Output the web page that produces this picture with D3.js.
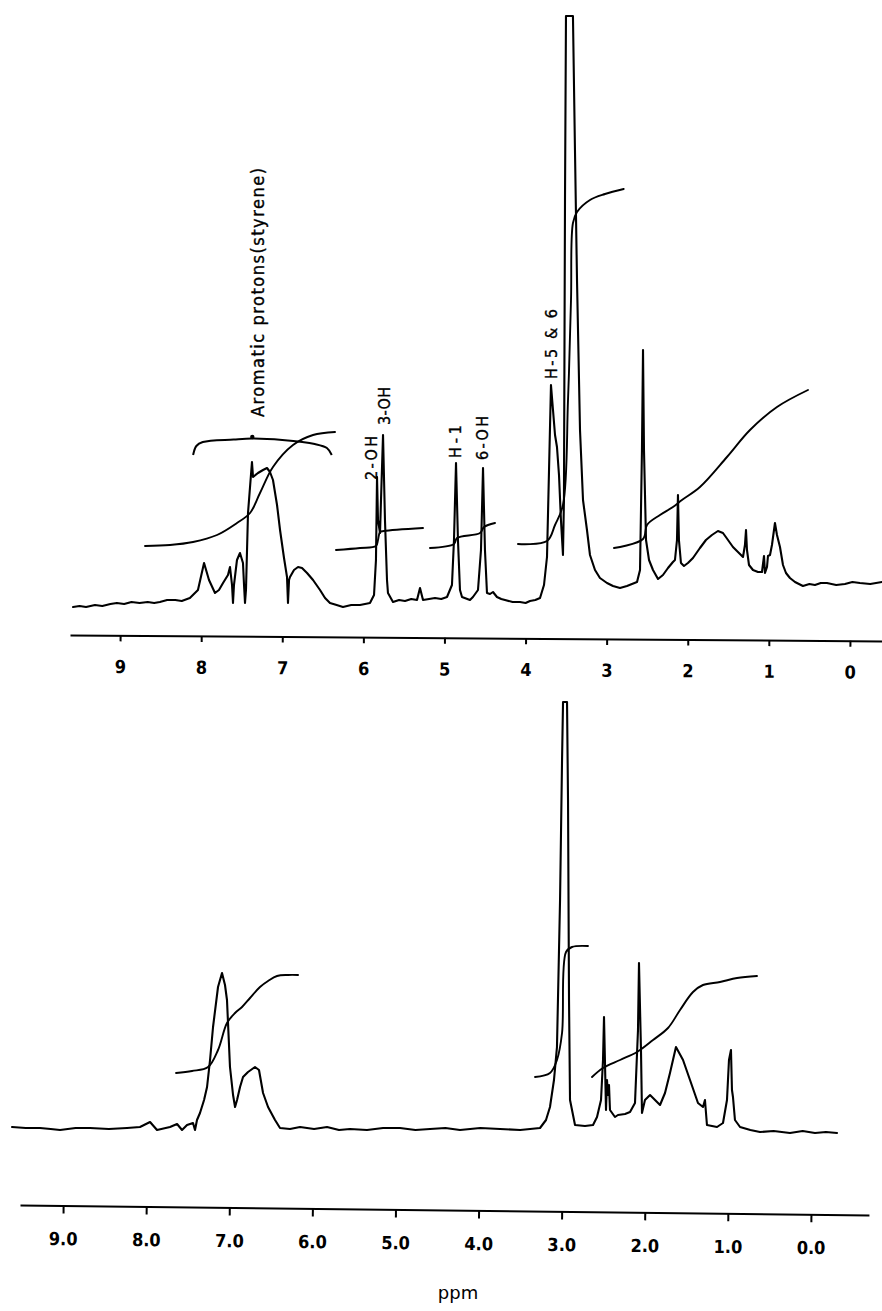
<!DOCTYPE html>
<html>
<head>
<meta charset="utf-8">
<script src="https://cdn.jsdelivr.net/npm/d3@7"></script>
<style>
  html, body { margin: 0; padding: 0; background: #fff; }
  svg { display: block; }
</style>
</head>
<body>
<div id="chart"></div>
<script>
// ---------------- DATA ----------------
// Top spectrum: [ppm, intensity]
const topSpectrum = [
[9.58,3],[9.50,4],[9.42,3],[9.31,5],[9.22,4],[9.12,6],[9.04,7],[8.95,6],[8.86,8],[8.76,7],[8.66,8],[8.58,7],[8.51,8],[8.42,10],[8.32,10],[8.24,9],[8.14,12],[8.04,20],[7.965,47],[7.904,30],[7.83,17],[7.781,20],[7.731,27],[7.67,35],[7.645,43],[7.62,25],[7.608,7],[7.596,25],[7.559,50],[7.522,57],[7.485,47],[7.472,25],[7.46,7],[7.448,20],[7.423,97],[7.374,148],[7.361,133],[7.30,137],[7.238,140],[7.189,142],[7.152,138],[7.115,130],[7.065,105],[7.028,80],[6.979,52],[6.942,33],[6.93,7],[6.917,30],[6.905,33],[6.856,40],[6.806,43],[6.757,42],[6.695,37],[6.621,30],[6.535,20],[6.473,12],[6.412,7],[6.33,5],[6.252,3],[6.15,5],[6.042,5],[5.98,6],[5.919,7],[5.869,15],[5.845,50],[5.832,133],[5.82,90],[5.795,77],[5.783,110],[5.758,175],[5.734,90],[5.709,30],[5.697,17],[5.635,8],[5.56,10],[5.487,9],[5.41,11],[5.339,10],[5.302,22],[5.265,10],[5.19,11],[5.117,12],[5.04,11],[4.969,13],[4.908,25],[4.883,70],[4.858,147],[4.834,70],[4.809,20],[4.784,13],[4.686,10],[4.649,13],[4.587,20],[4.55,60],[4.525,142],[4.501,60],[4.476,17],[4.439,16],[4.402,18],[4.353,13],[4.30,11],[4.254,10],[4.16,8],[4.069,8],[4.00,7],[3.946,9],[3.88,10],[3.822,12],[3.773,25],[3.736,53],[3.711,140],[3.687,225],[3.662,200],[3.637,175],[3.613,163],[3.588,135],[3.564,90],[3.539,55],[3.527,110],[3.514,410],[3.502,594],[3.416,594],[3.391,460],[3.366,330],[3.329,180],[3.292,110],[3.243,80],[3.206,55],[3.144,40],[3.083,32],[2.996,27],[2.922,24],[2.836,22],[2.75,24],[2.688,26],[2.626,28],[2.589,40],[2.565,160],[2.552,260],[2.54,160],[2.515,70],[2.478,50],[2.429,40],[2.367,31],[2.306,35],[2.244,42],[2.183,48],[2.158,50],[2.133,70],[2.121,115],[2.109,70],[2.084,47],[2.047,44],[1.998,47],[1.936,52],[1.85,62],[1.776,70],[1.702,75],[1.628,79],[1.566,77],[1.504,70],[1.443,63],[1.381,58],[1.319,53],[1.295,65],[1.282,80],[1.27,60],[1.245,45],[1.196,40],[1.134,38],[1.085,38],[1.06,54],[1.048,37],[1.023,43],[1.011,54],[0.986,55],[0.962,65],[0.925,87],[0.90,75],[0.863,63],[0.826,45],[0.789,37],[0.74,32],[0.678,28],[0.58,24],[0.50,26],[0.432,25],[0.36,27],[0.284,27],[0.17,25],[0.062,26],[-0.03,28],[-0.123,27],[-0.25,26],[-0.395,28]
];

// Top integral traces: [ppm, integral height]
const topIntegrals = [
  [[8.693,64],[8.385,65],[8.101,68],[7.805,75],[7.559,87],[7.398,97],[7.275,117],[7.115,143],[6.868,165],[6.621,175],[6.35,178]],
  [[6.338,60],[6.042,62],[5.845,64],[5.82,70],[5.795,78],[5.746,79],[5.265,82]],
  [[5.179,62],[4.883,66],[4.846,72],[4.562,77],[4.513,83],[4.377,87]],
  [[4.094,66],[3.736,69],[3.637,85],[3.539,105],[3.477,210],[3.44,310],[3.416,387],[3.366,398],[3.206,410],[3.021,416],[2.79,421]],
  [[2.91,62],[2.552,71],[2.503,85],[2.343,95],[2.183,103],[2.072,110],[1.85,123],[1.517,153],[1.233,180],[0.90,203],[0.518,220]]
];

// Bottom spectrum: [ppm, intensity]
const bottomSpectrum = [
[9.615,8],[9.45,7],[9.278,7],[9.15,6],[9.037,5],[8.85,7],[8.676,7],[8.45,6],[8.231,7],[8.075,8],[7.954,13],[7.87,5],[7.714,8],[7.629,11],[7.569,5],[7.509,10],[7.437,12],[7.413,5],[7.389,15],[7.353,22],[7.304,35],[7.268,48],[7.232,75],[7.196,108],[7.136,148],[7.088,162],[7.052,150],[7.028,135],[6.992,68],[6.955,40],[6.931,28],[6.907,35],[6.871,48],[6.835,58],[6.775,63],[6.691,68],[6.643,65],[6.594,42],[6.534,28],[6.45,15],[6.39,7],[6.27,6],[6.149,8],[5.98,6],[5.824,8],[5.68,5],[5.548,6],[5.343,5],[5.15,7],[4.946,7],[4.76,5],[4.585,6],[4.40,7],[4.224,5],[3.98,7],[3.742,6],[3.50,5],[3.261,7],[3.189,15],[3.141,28],[3.093,55],[3.057,88],[3.02,235],[2.996,375],[2.984,433],[2.936,433],[2.924,335],[2.912,135],[2.90,35],[2.84,10],[2.72,9],[2.623,10],[2.575,18],[2.527,35],[2.503,75],[2.491,118],[2.467,25],[2.455,55],[2.443,40],[2.431,50],[2.419,25],[2.359,18],[2.323,20],[2.238,21],[2.178,23],[2.118,32],[2.082,105],[2.07,172],[2.046,85],[2.034,22],[1.998,35],[1.937,40],[1.877,35],[1.817,30],[1.757,42],[1.697,62],[1.625,88],[1.54,75],[1.456,55],[1.36,32],[1.30,28],[1.276,35],[1.252,10],[1.131,8],[1.059,12],[1.011,35],[0.987,75],[0.963,85],[0.951,45],[0.939,38],[0.915,15],[0.854,8],[0.73,5],[0.614,3],[0.45,4],[0.253,2],[0.10,4],[-0.048,2],[-0.18,3],[-0.313,2]
];

const bottomIntegrals = [
  [[7.641,62],[7.449,64],[7.256,68],[7.136,85],[7.028,112],[6.931,122],[6.847,128],[6.751,137],[6.631,148],[6.534,154],[6.426,159],[6.294,160],[6.173,160]],
  [[3.321,58],[3.141,62],[3.057,75],[2.996,102],[2.948,183],[2.876,188],[2.684,189]],
  [[2.635,58],[2.503,67],[2.298,75],[2.094,83],[1.901,95],[1.721,107],[1.576,125],[1.42,143],[1.30,150],[1.095,153],[0.89,157],[0.65,159]]
];

// Tick labels
const topTicks = [9,8,7,6,5,4,3,2,1,0];
const bottomTicks = [9,8,7,6,5,4,3,2,1,0];
const axisTitle = "ppm";

// Peak annotations: text, ppm, intensity at the text's lower end
const peakLabels = [
  {text: "Aromatic protons(styrene)", ppm: 7.30, value: 193},
  {text: "2-OH", ppm: 5.906, value: 130},
  {text: "3-OH", ppm: 5.746, value: 185},
  {text: "H-1", ppm: 4.871, value: 152},
  {text: "6-OH", ppm: 4.538, value: 150},
  {text: "H-5 & 6", ppm: 3.687, value: 231}
];
// Bracket over the aromatic region: [ppm, height]
const aromaticBracket = [[8.10,155],[8.06,164],[7.98,168],[7.60,170.5],[7.37,171.5],[7.00,170],[6.60,166],[6.45,162],[6.39,155]];

// ---------------- DRAWING ----------------
const W = 882, H = 1311;
const svg = d3.select("#chart").append("svg").attr("width", W).attr("height", H);
svg.append("rect").attr("width", W).attr("height", H).attr("fill", "#fff");

const FONT = "'DejaVu Sans Condensed', 'DejaVu Sans', sans-serif";

const xTop = d3.scaleLinear().domain([9.618, -0.395]).range([70, 882]);
const yTop = d3.scaleLinear().domain([0, 600]).range([610, 10]);
const xBot = d3.scaleLinear().domain([9.519, -0.698]).range([20, 869]);
const yBot = d3.scaleLinear().domain([0, 450]).range([1135, 685]);

function drawTrace(data, x, y, width) {
  svg.append("path")
    .datum(data)
    .attr("fill", "none")
    .attr("stroke", "#000")
    .attr("stroke-width", width)
    .attr("stroke-linejoin", "round")
    .attr("stroke-linecap", "round")
    .attr("d", d3.line().x(d => x(d[0])).y(d => y(d[1])));
}
function drawIntegral(data, x, y) {
  svg.append("path")
    .datum(data)
    .attr("fill", "none")
    .attr("stroke", "#000")
    .attr("stroke-width", 1.9)
    .attr("stroke-linecap", "round")
    .attr("d", d3.line().curve(d3.curveCatmullRom.alpha(0.5)).x(d => x(d[0])).y(d => y(d[1])));
}

drawTrace(topSpectrum, xTop, yTop, 2.1);
topIntegrals.forEach(s => drawIntegral(s, xTop, yTop));
drawTrace(bottomSpectrum, xBot, yBot, 2.1);
bottomIntegrals.forEach(s => drawIntegral(s, xBot, yBot));

// bracket
svg.append("path")
  .datum(aromaticBracket)
  .attr("fill", "none").attr("stroke", "#000").attr("stroke-width", 2)
  .attr("d", d3.line().curve(d3.curveCatmullRom.alpha(0.5)).x(d => xTop(d[0])).y(d => yTop(d[1])));
svg.append("circle").attr("cx", xTop(7.37)).attr("cy", yTop(173)).attr("r", 2.2).attr("fill", "#000");

// peak labels (rotated)
const labelLen = {"Aromatic protons(styrene)": 249, "2-OH": 44, "3-OH": 38, "H-1": 33, "6-OH": 44, "H-5 & 6": 70};
peakLabels.forEach(l => {
  const big = l.text.length > 10;
  svg.append("text")
    .attr("transform", `translate(${xTop(l.ppm)},${yTop(l.value)}) rotate(-90)`)
    .attr("dy", "0.36em")
    .attr("font-family", FONT)
    .attr("font-size", big ? 18 : 16)
    .attr("textLength", labelLen[l.text])
    .attr("lengthAdjust", "spacing")
    .attr("fill", "#000")
    .attr("stroke", "#000")
    .attr("stroke-width", 0.35)
    .text(l.text);
});

// axes
function styleAxis(g) {
  g.select(".domain").attr("stroke", "#000").attr("stroke-width", 2);
  g.selectAll(".tick line").attr("stroke", "#000").attr("stroke-width", 2);
  g.selectAll(".tick text")
    .attr("font-family", FONT)
    .attr("font-weight", "bold")
    .attr("font-size", 18)
    .attr("fill", "#000");
}
const topAxis = d3.axisBottom(xTop).tickValues(topTicks).tickFormat(d3.format("d"))
  .tickSize(6).tickSizeOuter(0).tickPadding(19);
svg.append("g")
  .attr("transform", "translate(0,635) rotate(0.42,70,0)")
  .call(topAxis).call(styleAxis);

const botAxis = d3.axisBottom(xBot).tickValues(bottomTicks).tickFormat(d3.format(".1f"))
  .tickSize(8).tickSizeOuter(0).tickPadding(19);
svg.append("g")
  .attr("transform", "translate(0,1205) rotate(0.675,20,0)")
  .call(botAxis).call(styleAxis);

svg.append("text")
  .attr("x", 458).attr("y", 1299)
  .attr("text-anchor", "middle")
  .attr("font-family", "'DejaVu Sans', sans-serif")
  .attr("font-size", 18)
  .attr("fill", "#000")
  .text(axisTitle);
</script>
</body>
</html>
